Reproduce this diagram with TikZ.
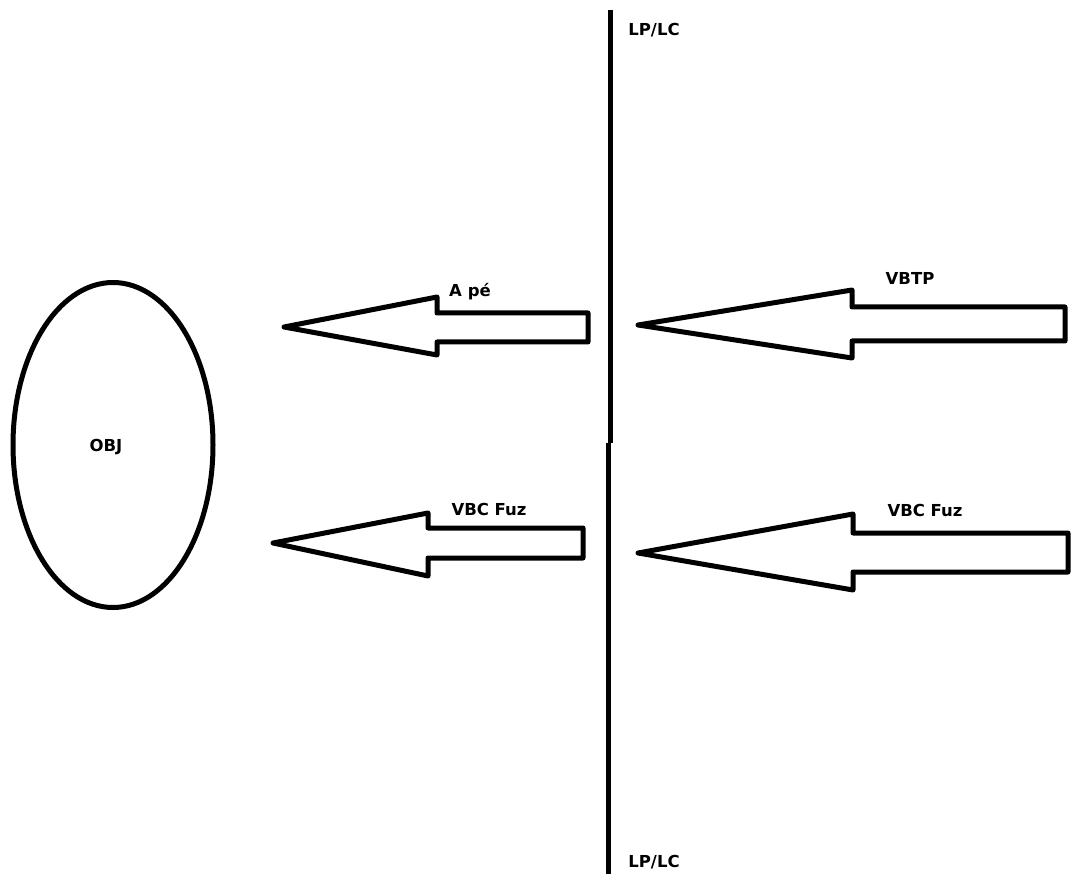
\documentclass[tikz,border=0pt]{standalone}
\usepackage{fontspec}
\setmainfont{DejaVu Sans}
\usetikzlibrary{shapes.geometric}
\tikzset{
  outline/.style={draw=black, line width=5pt, line join=round, fill=white},
  lbl/.style={font=\bfseries\fontsize{16.5}{19}\selectfont, inner sep=0pt, text=black},
  wall/.style={draw=black, line width=5pt}
}
\begin{document}
\begin{tikzpicture}[x=1pt,y=-1pt]
\useasboundingbox[fill=white] (0,0) rectangle (1071,874);
% wall
\coordinate (w1) at (610,10);
\coordinate (w2) at (610,443);
\coordinate (w3) at (608,443);
\coordinate (w4) at (608,874);
\draw[wall] (w1) -- (w2);
\draw[wall] (w3) -- (w4);
% object
\node[ellipse, draw=black, line width=5pt, minimum width=200pt, minimum height=325pt, inner sep=0pt] (obj) at (113,445) {};
\node[lbl] (objl) at (106,447) {OBJ};
% arrows
\draw[outline] (284,327) -- (437,297) -- (437,313) -- (588,313) -- (588,342) -- (437,342) -- (437,355) -- cycle;
\draw[outline] (638,325) -- (852,290) -- (852,307) -- (1065,307) -- (1065,341) -- (852,341) -- (852,358) -- cycle;
\draw[outline] (273,543) -- (428,513) -- (428,528) -- (583,528) -- (583,558) -- (428,558) -- (428,576) -- cycle;
\draw[outline] (638,553) -- (853,514) -- (853,533) -- (1068,533) -- (1068,572) -- (853,572) -- (853,590) -- cycle;
% labels
\node[lbl] (lp1) at (654,30) {LP/LC};
\node[lbl] (lp2) at (654,862) {LP/LC};
\node[lbl] (ape) at (470,292) {A pé};
\node[lbl] (vbtp) at (910,278) {VBTP};
\node[lbl] (vbc1) at (489,509) {VBC Fuz};
\node[lbl] (vbc2) at (925,510) {VBC Fuz};
\end{tikzpicture}
\end{document}
